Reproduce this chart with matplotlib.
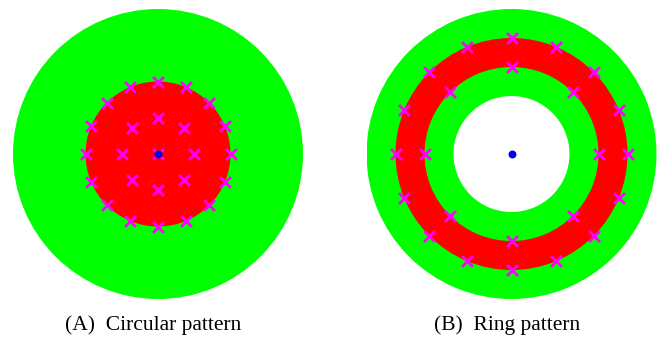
import numpy as np
import matplotlib
matplotlib.use("Agg")
import matplotlib.pyplot as plt
from matplotlib.patches import Circle, Wedge

# radii of the coloured regions (data units)
circ_red_r = 1.0
outer_r = 2.0
ring_hole_r = 0.8
ring_inner_r = 1.2
ring_outer_r = 1.6

# sampling points: (radius, count)
circ_samples = [(0.0, 1), (0.5, 8), (1.0, 16)]
ring_samples = [(1.2, 8), (1.6, 16)]

captions = ["(A)  Circular pattern", "(B)  Ring pattern"]

GREEN = "#00ff00"
RED = "#ff0000"
MAG = "#ff00ff"
BLUE = "#0000ee"


def ring_points(samples):
    xs, ys = [], []
    for r, n in samples:
        ang = np.arange(n) * 2 * np.pi / n + np.pi / 2
        xs.extend(r * np.cos(ang))
        ys.extend(r * np.sin(ang))
    return np.array(xs), np.array(ys)


def setup(ax):
    ax.set_xlim(-outer_r, outer_r)
    ax.set_ylim(-outer_r, outer_r)
    ax.set_aspect("equal")
    ax.axis("off")


fig = plt.figure(figsize=(6.59, 3.37), dpi=100)
W, H = 659, 337
s = 290

ax1 = fig.add_axes([13 / W, (H - 299) / H, s / W, s / H])
setup(ax1)
ax1.add_patch(Circle((0, 0), outer_r, color=GREEN, lw=0))
ax1.add_patch(Circle((0, 0), circ_red_r, color=RED, lw=0))
x, y = ring_points(circ_samples)
ax1.scatter(x, y, marker="x", s=60, color=MAG, linewidths=2, zorder=3)
ax1.scatter([0], [0], s=22, color=BLUE, zorder=4)

ax2 = fig.add_axes([366.5 / W, (H - 299) / H, s / W, s / H])
setup(ax2)
ax2.add_patch(Wedge((0, 0), outer_r, 0, 360, width=outer_r - ring_hole_r, color=GREEN, lw=0))
ax2.add_patch(Wedge((0, 0), ring_outer_r, 0, 360, width=ring_outer_r - ring_inner_r, color=RED, lw=0))
x, y = ring_points(ring_samples)
ax2.scatter(x, y, marker="x", s=60, color=MAG, linewidths=2, zorder=3)
ax2.scatter([0], [0], s=22, color=BLUE, zorder=4)

for cx, txt in zip([153, 507], captions):
    fig.text(cx / W, (H - 325) / H, txt, ha="center", va="center",
             fontsize=15.5, family="Liberation Serif")

fig.savefig("out.png", dpi=100)
